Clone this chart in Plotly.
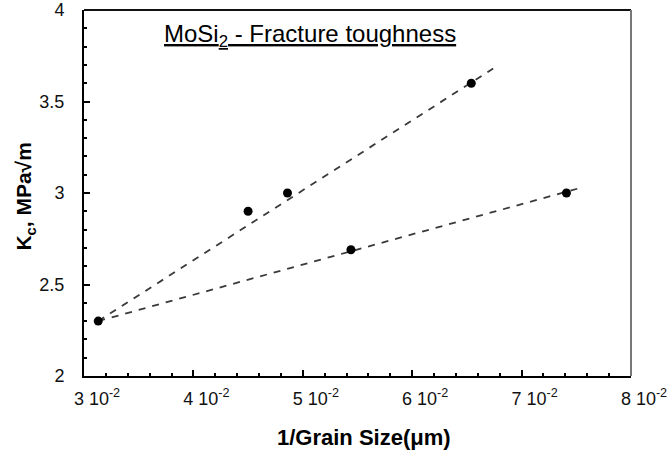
import plotly.graph_objects as go

# data points (1/grain size, Kc)
inv_grain = [0.0313, 0.0450, 0.0486, 0.0544, 0.0654, 0.0741]
kc = [2.30, 2.90, 3.00, 2.69, 3.60, 3.00]

# dashed trend lines (endpoints)
fit1_x = [0.0313, 0.0674]
fit1_y = [2.30, 3.68]
fit2_x = [0.0313, 0.0755]
fit2_y = [2.30, 3.03]

x_tickvals = [0.03, 0.04, 0.05, 0.06, 0.07, 0.08]
x_ticktext = ["3 10<sup>-2</sup>", "4 10<sup>-2</sup>", "5 10<sup>-2</sup>",
              "6 10<sup>-2</sup>", "7 10<sup>-2</sup>", "8 10<sup>-2</sup>"]
y_tickvals = [2, 2.5, 3, 3.5, 4]
y_ticktext = ["2", "2.5", "3", "3.5", "4"]

FONT = "Liberation Sans, Arial, sans-serif"

fig = go.Figure()
for fx, fy in [(fit1_x, fit1_y), (fit2_x, fit2_y)]:
    fig.add_trace(go.Scatter(x=fx, y=fy, mode="lines",
                             line=dict(color="#3a3a3a", width=1.8, dash="7px,7px"),
                             showlegend=False, hoverinfo="skip"))
fig.add_trace(go.Scatter(x=inv_grain, y=kc, mode="markers",
                         marker=dict(color="black", size=9),
                         showlegend=False))

fig.update_layout(
    width=671, height=453,
    margin=dict(l=84, r=40, t=10, b=77),
    paper_bgcolor="white", plot_bgcolor="white",
    font=dict(family=FONT, color="black", size=18),
    xaxis=dict(range=[0.03, 0.08], tickvals=x_tickvals, ticktext=x_ticktext,
               automargin=False, ticklabeloverflow="allow",
               showgrid=False, zeroline=False, showline=True, linecolor="black",
               linewidth=2, ticks="inside", ticklen=6, tickwidth=1.5, tickcolor="black",
               minor=dict(dtick=0.002, ticks="inside", ticklen=3, tickwidth=1.5, tickcolor="black"),
               tickfont=dict(size=18, family=FONT, color="#111111"),
               ticklabelshift=13, ticklabelstandoff=5),
    yaxis=dict(range=[2, 4], tickvals=y_tickvals, ticktext=y_ticktext,
               automargin=False, ticklabeloverflow="allow",
               showgrid=False, zeroline=False, showline=True, linecolor="black",
               linewidth=2, ticks="inside", ticklen=6, tickwidth=1.5, tickcolor="black",
               minor=dict(dtick=0.1, ticks="inside", ticklen=3, tickwidth=1.5, tickcolor="black"),
               tickfont=dict(size=18, family=FONT, color="#111111"),
               ticklabelstandoff=14),
    shapes=[
        dict(type="line", xref="paper", yref="paper", x0=0, x1=1, y0=1, y1=1,
             line=dict(color="#111111", width=2)),
        dict(type="line", xref="paper", yref="paper", x0=1, x1=1, y0=0, y1=1,
             line=dict(color="#777777", width=2)),
    ],
    annotations=[
        dict(text="<u>MoSi<sub>2</sub> - Fracture toughness</u>", xref="paper", yref="paper",
             x=0.413, y=0.93, xanchor="center", yanchor="middle", showarrow=False,
             font=dict(size=24, family=FONT)),
        dict(text="<b>1/Grain Size(μm)</b>", xref="paper", yref="paper",
             x=0.512, y=-0.167, xanchor="center", yanchor="middle", showarrow=False,
             font=dict(size=22, family=FONT)),
        dict(text="<b>K<sub>c</sub>, MPa√m</b>", xref="paper", yref="paper",
             x=-0.108, y=0.49, xanchor="center", yanchor="middle", showarrow=False,
             textangle=-90, font=dict(size=21, family=FONT)),
    ],
)

# remove the default 8px page margin so the figure sits at the window's corner
fig.write_html("out.html", config={"displayModeBar": False},
               post_script="document.body.style.margin='0';")
